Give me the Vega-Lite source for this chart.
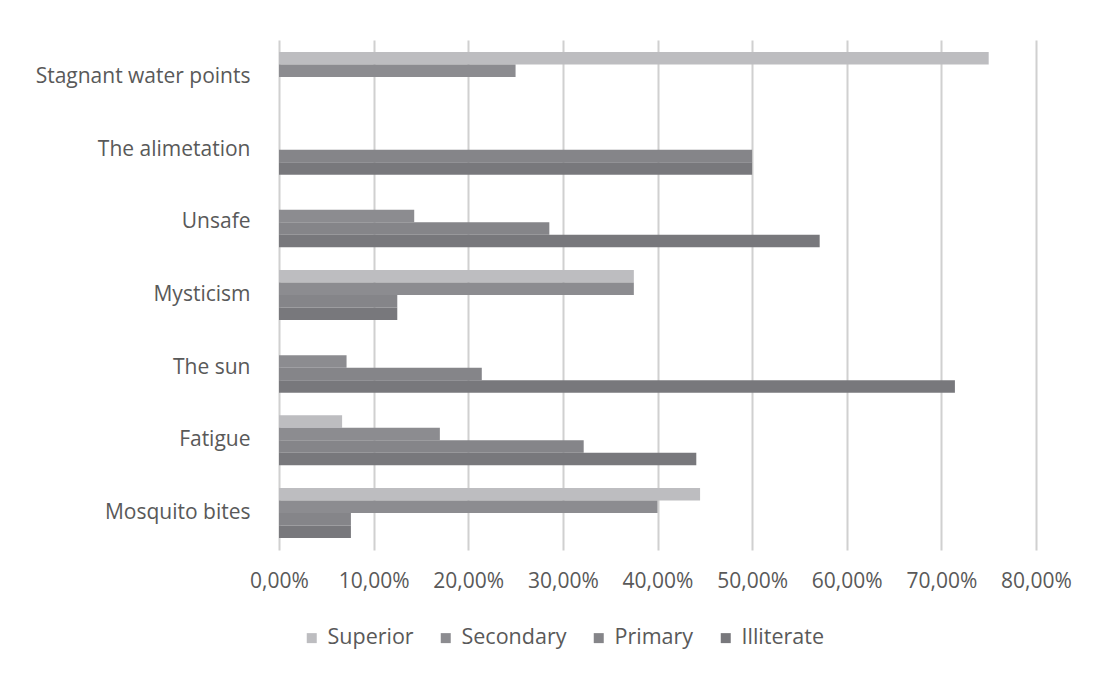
{
  "$schema": "https://vega.github.io/schema/vega-lite/v6.json",
  "width": 757,
  "height": 510,
  "autosize": "none",
  "padding": {"left": 279, "top": 40, "right": 58, "bottom": 123},
  "background": "white",
  "data": {
    "values": [
      {"cause": "Stagnant water points", "level": "Superior", "value": 0.75},
      {"cause": "Stagnant water points", "level": "Secondary", "value": 0.25},
      {"cause": "Stagnant water points", "level": "Primary", "value": 0},
      {"cause": "Stagnant water points", "level": "Illiterate", "value": 0},
      {"cause": "The alimetation", "level": "Superior", "value": 0},
      {"cause": "The alimetation", "level": "Secondary", "value": 0},
      {"cause": "The alimetation", "level": "Primary", "value": 0.5},
      {"cause": "The alimetation", "level": "Illiterate", "value": 0.5},
      {"cause": "Unsafe", "level": "Superior", "value": 0},
      {"cause": "Unsafe", "level": "Secondary", "value": 0.1429},
      {"cause": "Unsafe", "level": "Primary", "value": 0.2857},
      {"cause": "Unsafe", "level": "Illiterate", "value": 0.5714},
      {"cause": "Mysticism", "level": "Superior", "value": 0.375},
      {"cause": "Mysticism", "level": "Secondary", "value": 0.375},
      {"cause": "Mysticism", "level": "Primary", "value": 0.125},
      {"cause": "Mysticism", "level": "Illiterate", "value": 0.125},
      {"cause": "The sun", "level": "Superior", "value": 0},
      {"cause": "The sun", "level": "Secondary", "value": 0.0714},
      {"cause": "The sun", "level": "Primary", "value": 0.2143},
      {"cause": "The sun", "level": "Illiterate", "value": 0.7143},
      {"cause": "Fatigue", "level": "Superior", "value": 0.0667},
      {"cause": "Fatigue", "level": "Secondary", "value": 0.17},
      {"cause": "Fatigue", "level": "Primary", "value": 0.322},
      {"cause": "Fatigue", "level": "Illiterate", "value": 0.441},
      {"cause": "Mosquito bites", "level": "Superior", "value": 0.445},
      {"cause": "Mosquito bites", "level": "Secondary", "value": 0.4},
      {"cause": "Mosquito bites", "level": "Primary", "value": 0.076},
      {"cause": "Mosquito bites", "level": "Illiterate", "value": 0.076}
    ]
  },
  "mark": {"type": "bar"},
  "encoding": {
    "y": {
      "field": "cause",
      "type": "nominal",
      "sort": ["Stagnant water points", "The alimetation", "Unsafe", "Mysticism", "The sun", "Fatigue", "Mosquito bites"],
      "scale": {"paddingInner": 0.312, "paddingOuter": 0.165},
      "title": null,
      "axis": {
        "labelFont": "Open Sans",
        "labelFontSize": 21,
        "labelColor": "#595959",
        "labelPadding": 29,
        "labelLimit": 400,
        "ticks": false,
        "domain": false,
        "grid": false
      }
    },
    "yOffset": {
      "field": "level",
      "type": "nominal",
      "sort": ["Superior", "Secondary", "Primary", "Illiterate"],
      "scale": {"paddingInner": 0, "paddingOuter": 0}
    },
    "x": {
      "field": "value",
      "type": "quantitative",
      "scale": {"domain": [0, 0.8], "nice": false},
      "title": null,
      "axis": {
        "values": [0, 0.1, 0.2, 0.3, 0.4, 0.5, 0.6, 0.7, 0.8],
        "labelExpr": "replace(format(datum.value, '.2%'), '.', ',')",
        "labelFont": "Open Sans",
        "labelFontSize": 21,
        "labelColor": "#595959",
        "labelPadding": 20,
        "labelOverlap": false,
        "labelFlush": false,
        "labelBound": false,
        "ticks": false,
        "domain": false,
        "grid": true,
        "gridColor": "#d0d0d0",
        "gridWidth": 2
      }
    },
    "color": {
      "field": "level",
      "type": "nominal",
      "sort": ["Superior", "Secondary", "Primary", "Illiterate"],
      "scale": {
        "domain": ["Superior", "Secondary", "Primary", "Illiterate"],
        "range": ["#bdbdc0", "#8c8c90", "#858589", "#78787c"]
      },
      "legend": {
        "title": null,
        "orient": "none",
        "direction": "horizontal",
        "legendX": 22,
        "legendY": 587,
        "symbolType": "square",
        "symbolSize": 100,
        "symbolStrokeWidth": 0,
        "labelFont": "Open Sans",
        "labelFontSize": 21.5,
        "labelColor": "#595959",
        "labelOffset": 5,
        "columnPadding": 21
      }
    }
  },
  "config": {"view": {"stroke": null}}
}
